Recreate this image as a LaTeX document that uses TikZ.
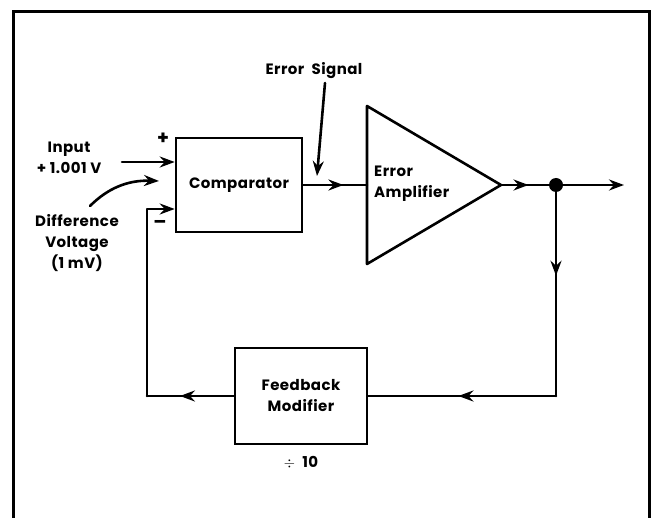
\documentclass[tikz,border=0pt]{standalone}
\usepackage{fontspec}
\setmainfont{Poppins}[LetterSpace=3]
\usetikzlibrary{arrows.meta,decorations.markings,positioning}

\tikzset{
  blk/.style={draw, line width=2.6pt, inner sep=0pt, align=center, font=\bfseries\fontsize{15}{21}\selectfont},
  txt/.style={inner sep=0pt, align=center, font=\bfseries\fontsize{15}{21}\selectfont},
  wire/.style={line width=2.6pt, line cap=round, line join=round},
  tip/.style={-{Stealth[length=15pt,width=11pt,inset=5pt]}},
  midarrow/.style={postaction={decorate}, decoration={markings,
      mark=at position #1 with {\arrow{Stealth[length=15pt,width=11pt,inset=5pt]}}}},
}

\begin{document}
\begin{tikzpicture}[x=1pt,y=-1pt]
  \useasboundingbox (0,0) rectangle (651,518);
  % frame
  \draw[line width=3pt] (13,518) -- (13,12) -- (649,12) -- (649,518);
  % blocks
  \node[blk, minimum width=126pt, minimum height=94pt] (comp) at (239,185) {Comparator};
  \node[blk, minimum width=132pt, minimum height=96pt] (fbm) at (301,396) {Feedback\\Modifier};
  \coordinate (amptl) at (367,106);
  \coordinate (ampbl) at (367,264);
  \coordinate (amptip) at (501,185);
  \draw[wire] (amptl) -- (amptip) -- (ampbl) -- cycle;
  \node[txt, align=left, anchor=west] (ampl) at (374,184) {Error\\Amplifier};
  % labels
  \node[txt] (inl) at (69,158) {Input\\+ 1.001 V};
  \node[txt] (diffl) at (77,243) {Difference\\Voltage\\(1 mV)};
  \node[txt, font=\bfseries\fontsize{19}{19}\selectfont] (plus) at (163,139) {+};
  \node[txt, font=\bfseries\fontsize{19}{19}\selectfont] (minus) at (160,224) {–};
  \node[txt] (errl) at (314,71) {Error\ \ Signal};
  \node[txt] (div) at (301,463) {{\Large$\div$}\ \ 10};
  % input side
  \coordinate (intail) at (122,162);
  \draw[wire, tip] (intail) -- (comp.west |- intail);
  \coordinate (dvtail) at (90,206);
  \coordinate (dvhead) at (159,181);
  \draw[wire, tip] (dvtail) .. controls (108,188) and (128,180) .. (dvhead);
  \coordinate (estail) at (325,83);
  \coordinate (eshead) at (317,176);
  \draw[wire, tip] (estail) -- (eshead);
  % forward path
  \draw[wire, midarrow=0.63] (comp.east |- amptip) -- (amptl |- amptip);
  \coordinate (junc) at (556,185);
  \coordinate (out) at (624,185);
  \draw[wire, midarrow=0.5] (amptip) -- (junc);
  \draw[wire, tip] (junc) -- (out);
  \fill (junc) circle (7);
  % feedback path
  \coordinate (fbr) at (556,396);
  \coordinate (fbl) at (147,396);
  \coordinate (fbin) at (147,209);
  \draw[wire, midarrow=0.43] (junc) -- (fbr);
  \draw[wire, midarrow=0.52] (fbr) -- (fbm.east);
  \draw[wire, midarrow=0.62] (fbm.west) -- (fbl);
  \draw[wire, tip] (fbl) -- (fbin) -- (comp.west |- fbin);
\end{tikzpicture}
\end{document}
